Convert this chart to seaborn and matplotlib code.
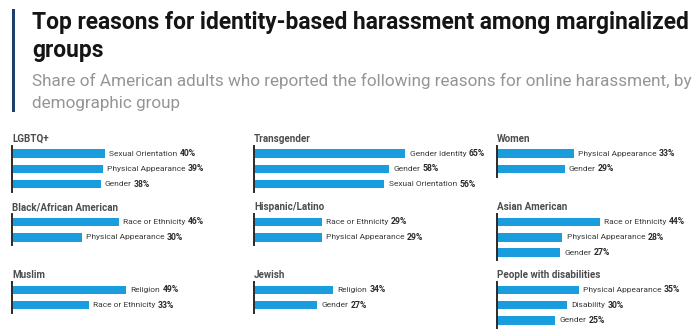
import matplotlib
matplotlib.use("Agg")
import matplotlib.pyplot as plt
from matplotlib.patches import Rectangle
import seaborn as sns
import pandas as pd

# ---------------- data ----------------
groups = ["LGBTQ+", "Transgender", "Women",
          "Black/African American", "Hispanic/Latino", "Asian American",
          "Muslim", "Jewish", "People with disabilities"]
lgbtq_reasons = ["Sexual Orientation", "Physical Appearance", "Gender"]
lgbtq_values = [40, 39, 38]
trans_reasons = ["Gender Identity", "Gender", "Sexual Orientation"]
trans_values = [65, 58, 56]
women_reasons = ["Physical Appearance", "Gender"]
women_values = [33, 29]
black_reasons = ["Race or Ethnicity", "Physical Appearance"]
black_values = [46, 30]
hisp_reasons = ["Race or Ethnicity", "Physical Appearance"]
hisp_values = [29, 29]
asian_reasons = ["Race or Ethnicity", "Physical Appearance", "Gender"]
asian_values = [44, 28, 27]
muslim_reasons = ["Religion", "Race or Ethnicity"]
muslim_values = [49, 33]
jewish_reasons = ["Religion", "Gender"]
jewish_values = [34, 27]
disab_reasons = ["Physical Appearance", "Disability", "Gender"]
disab_values = [35, 30, 25]

reasons_list = [lgbtq_reasons, trans_reasons, women_reasons,
                black_reasons, hisp_reasons, asian_reasons,
                muslim_reasons, jewish_reasons, disab_reasons]
values_list = [lgbtq_values, trans_values, women_values,
               black_values, hisp_values, asian_values,
               muslim_values, jewish_values, disab_values]

title_lines = ["Top reasons for identity-based harassment among marginalized", "groups"]
subtitle_lines = ["Share of American adults who reported the following reasons for online harassment, by",
                  "demographic group"]

# ---------------- style ----------------
sns.set_style("white")
plt.rcParams["font.family"] = ["Roboto", "DejaVu Sans"]

W, H = 700, 336
fig = plt.figure(figsize=(W / 100, H / 100), dpi=100)
renderer = fig.canvas.get_renderer()

PT = 0.72  # points per pixel at 100 dpi


def fit_size(text, target_px, weight="normal"):
    t = fig.text(0, 0, text, fontsize=10, fontweight=weight)
    w = t.get_window_extent(renderer).width
    t.remove()
    return 10 * target_px / w


BAR_COLOR = "#1a9ddf"

# title accent bar
fig.patches.append(Rectangle((12 / W, 1 - 112 / H), 3 / W, 103 / H,
                             transform=fig.transFigure, facecolor="#1d3f6b",
                             edgecolor="none"))

title_fs = fit_size(title_lines[0], 658, "bold")
fig.text(32 / W, 1 - 29.5 / H, title_lines[0], fontsize=title_fs, fontweight="bold",
         color="#151515", va="baseline", ha="left")
fig.text(32 / W, 1 - 56.8 / H, title_lines[1], fontsize=title_fs, fontweight="bold",
         color="#151515", va="baseline", ha="left")
sub_fs = fit_size(subtitle_lines[0], 664, "normal")
fig.text(32 / W, 1 - 86 / H, subtitle_lines[0], fontsize=sub_fs, color="#959595",
         va="baseline", ha="left")
fig.text(32 / W, 1 - 107.8 / H, subtitle_lines[1], fontsize=sub_fs, color="#959595",
         va="baseline", ha="left")

panel_fs = fit_size("Black/African American", 103, "bold") * 1.03
label_fs = fit_size("Sexual Orientation", 62, "normal") * 1.1
value_fs = fit_size("40%", 14.5, "bold") * 1.12

# layout (pixels)
col_left = [12, 254, 497]
row_top = [145.9, 214.3, 282.2]
step = 15.3          # px per bar slot
px_per_pct = 2.33
ax_w = 190

for k, (grp, reasons, vals) in enumerate(zip(groups, reasons_list, values_list)):
    r, c = divmod(k, 3)
    n = len(vals)
    h = n * step
    left = col_left[c]
    top = row_top[r]
    ax = fig.add_axes([left / W, 1 - (top + h) / H, ax_w / W, h / H])
    df = pd.DataFrame({"reason": reasons, "value": vals})
    sns.barplot(data=df, x="value", y="reason", orient="h", color=BAR_COLOR,
                width=0.56, linewidth=0, saturation=1, ax=ax)
    ax.set_xlim(0, ax_w / px_per_pct)
    ax.set_ylim(n - 0.5, -0.5)
    ax.set_xticks([])
    ax.set_yticks([])
    ax.set_xlabel("")
    ax.set_ylabel("")
    ax.set_facecolor("none")
    for s in ["top", "right", "bottom"]:
        ax.spines[s].set_visible(False)
    ax.spines["left"].set_color("#2a2a2a")
    ax.spines["left"].set_linewidth(1.4)

    ax.annotate(grp, xy=(0, 1), xycoords="axes fraction",
                xytext=(0, 4 * PT), textcoords="offset points",
                fontsize=panel_fs, fontweight="bold", color="#4d4d4d",
                ha="left", va="baseline", annotation_clip=False)

    for i, (reason, v) in enumerate(zip(reasons, vals)):
        t = ax.annotate(reason, xy=(v, i), xycoords="data",
                        xytext=(4.3 * PT, 0), textcoords="offset points",
                        fontsize=label_fs, color="#3a3a3a", ha="left", va="center",
                        annotation_clip=False)
        ax.annotate(f"{v}%", xy=(1, 0.5), xycoords=t,
                    xytext=(2.4 * PT, 0), textcoords="offset points",
                    fontsize=value_fs, fontweight="bold", color="#2a2a2a",
                    ha="left", va="center", annotation_clip=False)

fig.savefig("out.png", dpi=100, facecolor="white")
